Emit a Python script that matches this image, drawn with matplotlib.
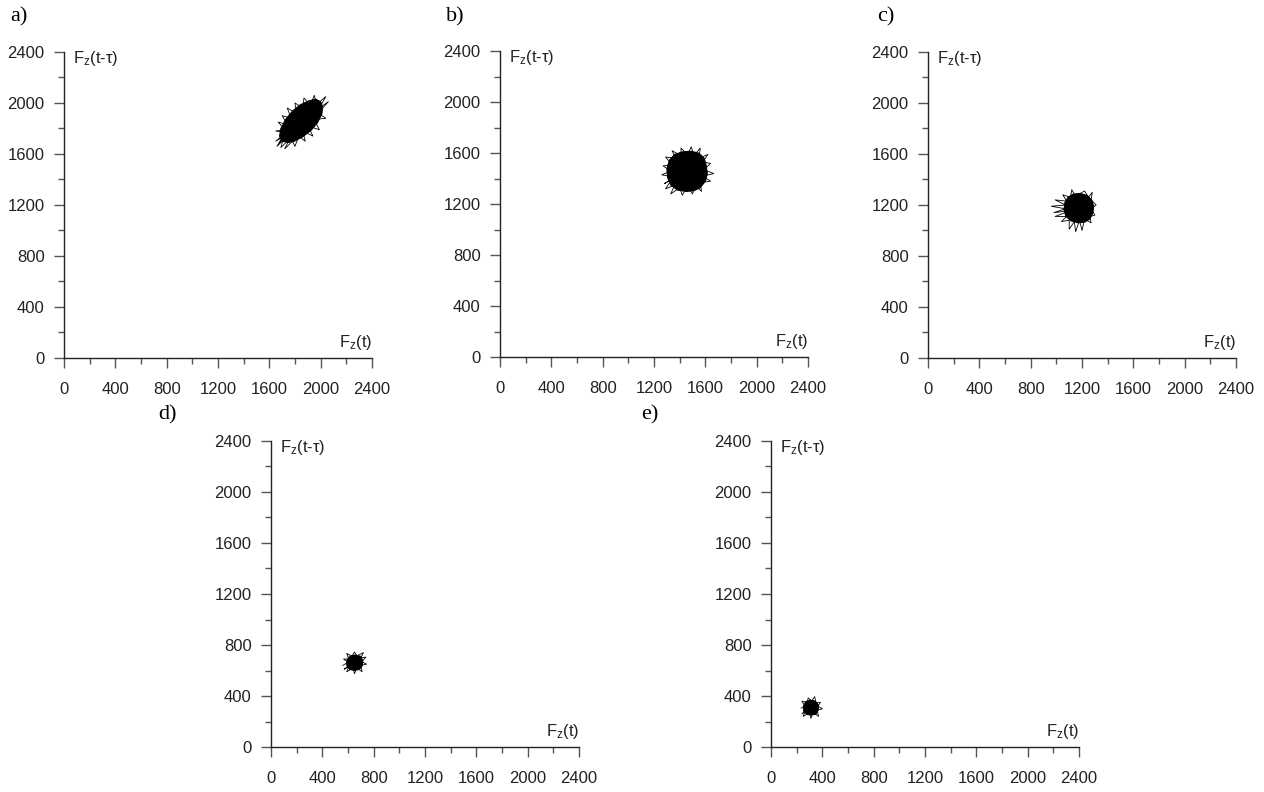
import matplotlib.pyplot as plt
from matplotlib.ticker import MultipleLocator

plt.rcParams['font.family'] = ['Liberation Sans', 'DejaVu Sans']
plt.rcParams['mathtext.default'] = 'regular'

panel_names = ['a)', 'b)', 'c)', 'd)', 'e)']

# dense core of each attractor (outline), in force units
a_core_x = [2000, 1960, 1905, 1840, 1780, 1730, 1690, 1680, 1700, 1745, 1795, 1860, 1925, 1975, 2010, 2015]
a_core_y = [2010, 2030, 2015, 1985, 1935, 1875, 1800, 1740, 1700, 1690, 1700, 1735, 1785, 1845, 1915, 1970]
b_core_x = [1450, 1510, 1560, 1600, 1615, 1605, 1590, 1550, 1490, 1420, 1360, 1320, 1300, 1305, 1330, 1385]
b_core_y = [1300, 1305, 1330, 1380, 1440, 1510, 1560, 1600, 1615, 1610, 1590, 1545, 1480, 1410, 1350, 1310]
c_core_x = [1170, 1220, 1260, 1285, 1290, 1275, 1240, 1185, 1130, 1090, 1065, 1060, 1075, 1115]
c_core_y = [1060, 1065, 1090, 1140, 1190, 1240, 1275, 1290, 1285, 1260, 1215, 1160, 1110, 1075]
d_core_x = [650, 690, 712, 715, 695, 655, 615, 592, 590, 612]
d_core_y = [600, 610, 640, 680, 712, 722, 712, 680, 640, 610]
e_core_x = [310, 350, 368, 368, 345, 305, 270, 252, 255, 278]
e_core_y = [250, 258, 290, 330, 360, 368, 355, 320, 280, 257]

# ragged trajectory strokes that stick out of the core
a_path_x = [1800, 1660, 1700, 1650, 1720, 1690, 1760, 1720, 1780, 1800, 1830, 1880, 1860, 1940,
            1900, 1990, 1950, 2040, 1980, 2060, 1990, 2040, 1970, 1950, 1920, 1870, 1860, 1800,
            1810, 1740, 1770, 1700, 1740, 1670, 1720, 1650, 1760, 1680]
a_path_y = [1800, 1660, 1730, 1700, 1760, 1650, 1720, 1640, 1700, 1660, 1740, 1700, 1780, 1740,
            1820, 1790, 1870, 1880, 1920, 2010, 1960, 2050, 1990, 2060, 1980, 2040, 1960, 2000,
            1920, 1960, 1880, 1900, 1830, 1850, 1790, 1780, 1760, 1690]
b_path_x = [1420, 1280, 1340, 1290, 1360, 1330, 1400, 1420, 1460, 1500, 1520, 1570, 1560, 1640,
            1580, 1665, 1590, 1640, 1580, 1620, 1550, 1560, 1510, 1490, 1460, 1410, 1410, 1340,
            1370, 1290, 1340, 1270, 1330, 1260, 1320]
b_path_y = [1450, 1360, 1400, 1320, 1350, 1280, 1330, 1270, 1340, 1280, 1350, 1300, 1370, 1380,
            1420, 1440, 1470, 1520, 1530, 1590, 1560, 1640, 1580, 1650, 1590, 1640, 1580, 1620,
            1560, 1570, 1510, 1500, 1460, 1430, 1420]
c_path_x = [1150, 980, 1070, 960, 1070, 990, 1080, 1050, 1110, 1120, 1150, 1220, 1250, 1280,
            1270, 1310, 1270, 1300, 1260, 1270, 1220, 1200, 1180, 1150, 1140, 1100, 1100, 1040,
            1080, 990, 1070]
c_path_y = [1160, 1140, 1170, 1190, 1200, 1240, 1230, 1280, 1260, 1320, 1270, 1310, 1260, 1300,
            1240, 1200, 1170, 1120, 1110, 1060, 1090, 1000, 1080, 990, 1070, 1010, 1080, 1070,
            1110, 1110, 1140]
d_path_x = [640, 570, 610, 590, 640, 650, 670, 710, 700, 745, 705, 740, 700, 720, 670, 650,
            630, 590, 605, 565, 600, 560]
d_path_y = [650, 610, 640, 590, 620, 575, 620, 590, 640, 650, 670, 705, 700, 740, 715, 745,
            710, 735, 690, 690, 665, 640]
e_path_x = [300, 240, 270, 250, 300, 310, 330, 370, 360, 400, 365, 385, 350, 340, 315, 290,
            280, 240, 265, 235]
e_path_y = [300, 260, 290, 240, 270, 225, 270, 240, 290, 300, 320, 350, 345, 395, 360, 385,
            350, 360, 320, 305]

cores = [(a_core_x, a_core_y), (b_core_x, b_core_y), (c_core_x, c_core_y),
         (d_core_x, d_core_y), (e_core_x, e_core_y)]
paths = [(a_path_x, a_path_y), (b_path_x, b_path_y), (c_path_x, c_path_y),
         (d_path_x, d_path_y), (e_path_x, e_path_y)]

# axes rectangles in figure fractions, and where the panel letter sits
boxes = [[0.0506, 0.548, 0.2437, 0.3864],
         [0.3956, 0.549, 0.2437, 0.3864],
         [0.7342, 0.548, 0.2437, 0.3864],
         [0.2144, 0.0568, 0.2437, 0.3864],
         [0.6100, 0.0568, 0.2437, 0.3864]]
letter_pos = [(0.008, 0.979), (0.353, 0.979), (0.694, 0.979), (0.125, 0.476), (0.507, 0.476)]

fig = plt.figure(figsize=(12.64, 7.92), dpi=100)

for i in range(5):
    ax = fig.add_axes(boxes[i])
    cx, cy = cores[i]
    px, py = paths[i]
    ax.fill(cx, cy, color='black', lw=0.8)
    ax.plot(px, py, color='black', lw=0.6)

    ax.set_xlim(0, 2400)
    ax.set_ylim(0, 2400)
    for s in ['top', 'right']:
        ax.spines[s].set_visible(False)
    for s in ['left', 'bottom']:
        ax.spines[s].set_color('#222222')
        ax.spines[s].set_linewidth(1.0)
    ax.xaxis.set_major_locator(MultipleLocator(400))
    ax.yaxis.set_major_locator(MultipleLocator(400))
    ax.xaxis.set_minor_locator(MultipleLocator(200))
    ax.yaxis.set_minor_locator(MultipleLocator(200))
    ax.tick_params(axis='x', which='major', length=7, width=1, color='#555555',
                   labelsize=12, labelcolor='#222222', pad=10)
    ax.tick_params(axis='y', which='major', length=7, width=1, color='#555555',
                   labelsize=12, labelcolor='#222222', pad=7)
    ax.tick_params(which='minor', length=4, width=1, color='#555555')

    ax.text(0.03, 1.01, r'F$_z$(t-τ)', transform=ax.transAxes, fontsize=12,
            ha='left', va='top', color='#222222')
    ax.text(1.0, 0.02, r'F$_z$(t)', transform=ax.transAxes, fontsize=12,
            ha='right', va='bottom', color='#222222')

    lx, ly = letter_pos[i]
    fig.text(lx, ly, panel_names[i], family=['Liberation Serif', 'DejaVu Serif'],
             fontsize=16, ha='left', va='center')

fig.savefig('out.png', dpi=100, facecolor='white')
